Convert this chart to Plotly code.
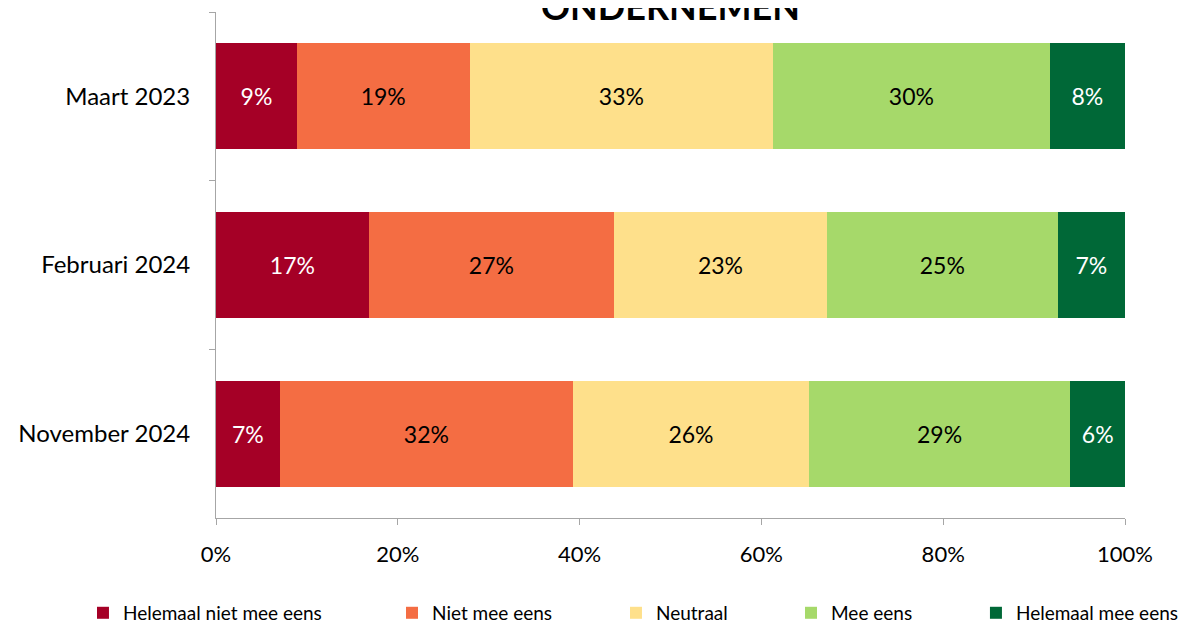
import plotly.graph_objects as go

# ── Data ──────────────────────────────────────────────────────
periods = ["Maart 2023", "Februari 2024", "November 2024"]
answers = [
    "Helemaal niet mee eens",
    "Niet mee eens",
    "Neutraal",
    "Mee eens",
    "Helemaal mee eens",
]
helemaal_niet = [8.9, 16.8, 7.0]
niet = [19.0, 27.0, 32.3]
neutraal = [33.4, 23.4, 25.9]
mee = [30.4, 25.4, 28.8]
helemaal_mee = [8.3, 7.4, 6.0]
x_ticks = [0, 20, 40, 60, 80, 100]

# ── Style ─────────────────────────────────────────────────────
FONT = "Lato"
COLORS = ["#A50026", "#F46D43", "#FEE08B", "#A6D96A", "#006837"]
TEXT_COLORS = ["white", "black", "black", "black", "white"]
AXIS_GREY = "#A6A6A6"

series = [helemaal_niet, niet, neutraal, mee, helemaal_mee]
legend_ids = ["legend", "legend2", "legend3", "legend4", "legend5"]
legend_x = [0.063, 0.3227, 0.5109, 0.658, 0.8134]   # container fractions

fig = go.Figure()
for name, vals, color, tcol, lid in zip(answers, series, COLORS, TEXT_COLORS, legend_ids):
    fig.add_trace(go.Bar(
        y=periods,
        x=vals,
        name=name,
        orientation="h",
        marker=dict(color=color, line=dict(width=0)),
        texttemplate="%{x:.0f}%",
        textposition="inside",
        insidetextanchor="middle",
        textangle=0,
        textfont=dict(family=FONT, size=23, color=tcol),
        legend=lid,
        showlegend=True,
        hoverinfo="skip",
    ))

legends = {}
for lid, lx in zip(legend_ids, legend_x):
    legends[lid] = dict(
        x=lx, y=0.029,
        xref="container", yref="container",
        xanchor="left", yanchor="middle",
        orientation="h",
        bgcolor="rgba(0,0,0,0)",
        font=dict(family=FONT, size=19, color="black"),
    )

# title sits partly above the page edge, as in the original
fig.add_annotation(
    text="<b>ONDERNEMEN</b>",
    xref="paper", yref="paper",
    x=0.5, y=1.012,
    xanchor="center", yanchor="middle",
    showarrow=False,
    font=dict(family=FONT, size=36, color="black"),
)

fig.update_layout(
    showlegend=True,
    barmode="stack",
    bargap=0.37,
    width=1190,
    height=623,
    paper_bgcolor="white",
    plot_bgcolor="white",
    margin=dict(l=208, r=73, t=4, b=113, autoexpand=False),
    font=dict(family=FONT, color="black"),
    xaxis=dict(
        range=[0, 100],
        tickvals=x_ticks,
        ticktext=[f"{v}%" for v in x_ticks],
        showgrid=False,
        zeroline=False,
        showline=True,
        linecolor=AXIS_GREY,
        linewidth=1,
        ticks="outside",
        ticklen=6,
        tickcolor=AXIS_GREY,
        ticklabelstandoff=11,
        tickfont=dict(family=FONT, size=22, color="black"),
    ),
    yaxis=dict(
        categoryorder="array",
        categoryarray=periods,
        autorange="reversed",
        showgrid=False,
        zeroline=False,
        showline=True,
        linecolor=AXIS_GREY,
        linewidth=1,
        ticks="outside",
        tickson="boundaries",
        ticklen=6,
        tickcolor=AXIS_GREY,
        ticklabelstandoff=20,
        tickfont=dict(family=FONT, size=24, color="black"),
    ),
    **legends,
)

fig.write_html("out.html")
